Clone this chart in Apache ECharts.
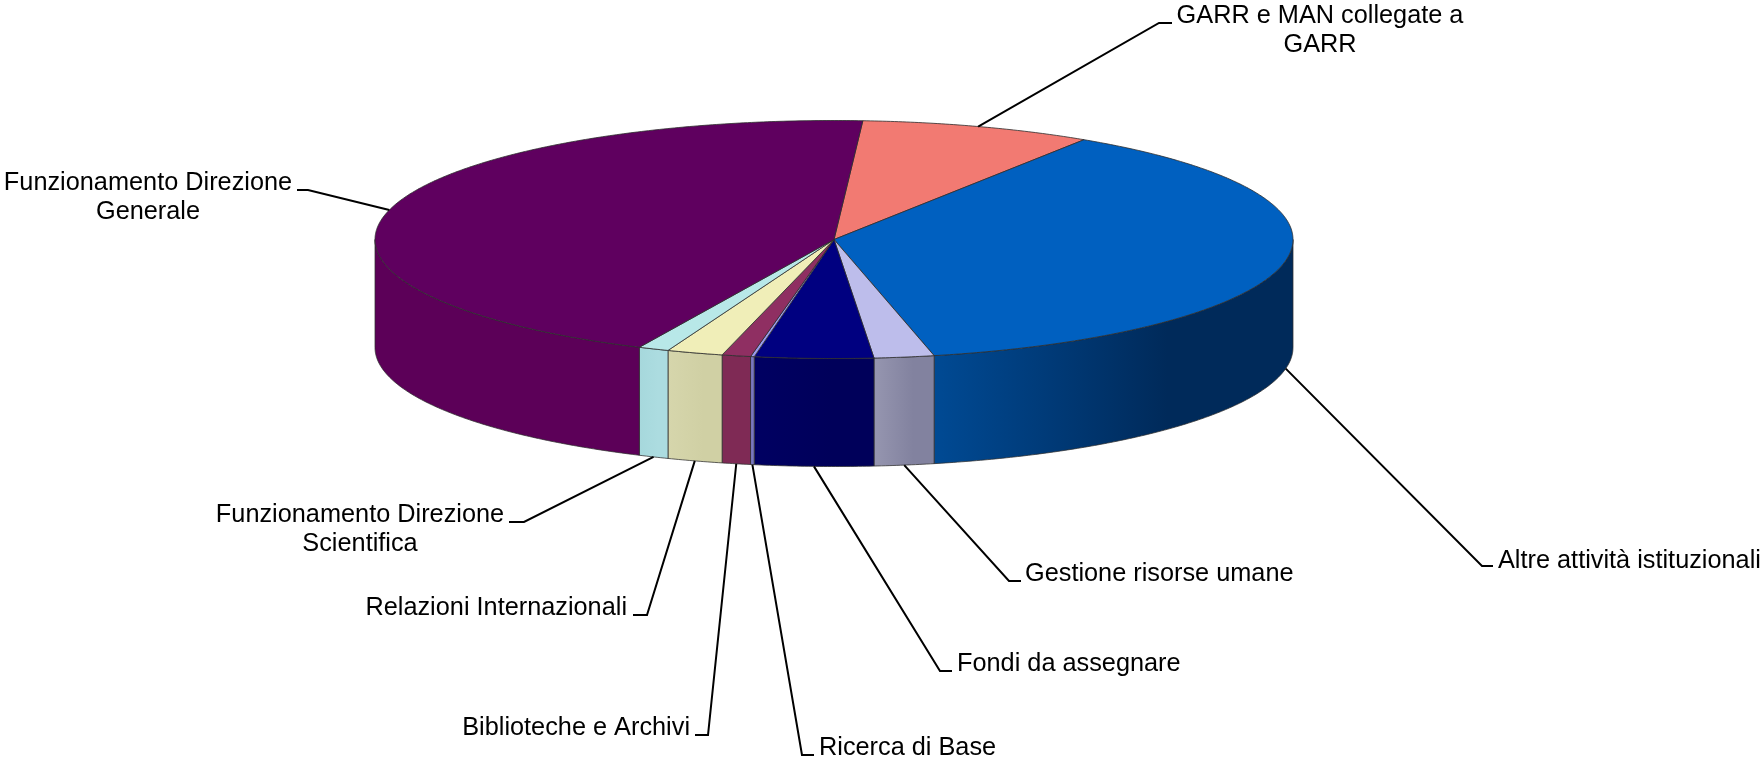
<!DOCTYPE html>
<html>
<head>
<meta charset="utf-8">
<title>Torta 3D</title>
<style>
html,body{margin:0;padding:0;background:#fff}
#main{width:1763px;height:760px}
</style>
<script src="https://cdn.jsdelivr.net/npm/echarts@6/dist/echarts.min.js"></script>
</head>
<body>
<div id="main"></div>
<script>
// categories, clockwise from the top of the pie
var categories = [
    'GARR e MAN collegate a\nGARR',
    'Altre attività istituzionali',
    'Gestione risorse umane',
    'Fondi da assegnare',
    'Ricerca di Base',
    'Biblioteche e Archivi',
    'Relazioni Internazionali',
    'Funzionamento Direzione\nScientifica',
    'Funzionamento Direzione\nGenerale'
];
// share of the total, in %
var shares = [8.17, 37.33, 2.11, 4.17, 0.13, 1.01, 1.97, 1.08, 44.03];

var topColors = ['#F27A72', '#0060C0', '#BDBDEB', '#000080', '#9A9AEE', '#8F2F62', '#F0EEB8', '#B8E8E8', '#5F005F'];
var wallColors = [
    ['#B86060', '#B86060'],
    ['#004A94', '#002A5A'],
    ['#9696B0', '#82829F'],
    ['#000062', '#00005A'],
    ['#7878C0', '#7878C0'],
    ['#7F2A55', '#7F2A55'],
    ['#D6D6AC', '#D0D0A4'],
    ['#A6D8DC', '#ACDCE0'],
    ['#5C0058', '#5C0058']
];

// elbow of each leader line, then where it stops next to the text
var elbows = [[1159, 23], [1482, 566], [1009, 581], [940, 671], [802, 755], [708, 735], [647, 615], [524, 522], [308, 190]];
var leaderEnds = [[1172, 23], [1493, 566], [1021, 581], [952, 671], [814, 755], [695, 735], [633, 615], [509, 522], [297, 190]];
var labelPos = [[1320, 31], [1498, 561], [1025, 574], [957, 664], [819, 748], [690, 728], [627, 608], [360, 530], [148, 198]];
var labelAlign = ['center', 'left', 'left', 'left', 'left', 'right', 'right', 'center', 'center'];

var cx = 834, cy = 239.5, rx = 459, ry = 119, depth = 108;
var startAngle = 3.6;

var total = 0;
shares.forEach(function (v) { total += v; });

function sliceRange(idx) {
    var sum = 0;
    for (var i = 0; i < idx; i++) sum += shares[i];
    return [startAngle + sum / total * 360, startAngle + (sum + shares[idx]) / total * 360];
}
// angle in degrees, clockwise from the top of the ellipse
function rim(deg, dz) {
    var t = deg * Math.PI / 180;
    return [cx + rx * Math.sin(t), cy - ry * Math.cos(t) + dz];
}
function arc(from, to, dz) {
    var pts = [];
    var n = Math.max(2, Math.ceil((to - from) * 2));
    for (var i = 0; i <= n; i++) pts.push(rim(from + (to - from) * i / n, dz));
    return pts;
}

function renderSlice(params, api) {
    var idx = params.dataIndex;
    var r = sliceRange(idx);
    var children = [];
    var lo = Math.max(r[0], 90), hi = Math.min(r[1], 270);
    if (hi > lo) {
        children.push({
            type: 'polygon',
            shape: { points: arc(lo, hi, 0).concat(arc(lo, hi, depth).reverse()) },
            style: {
                fill: new echarts.graphic.LinearGradient(0, 0, 1, 0, [
                    { offset: 0, color: wallColors[idx][0] },
                    { offset: 0.65, color: wallColors[idx][1] },
                    { offset: 1, color: wallColors[idx][1] }
                ]),
                stroke: 'rgba(45,45,45,0.75)',
                lineWidth: 1
            }
        });
    }
    children.push({
        type: 'polygon',
        shape: { points: [[cx, cy]].concat(arc(r[0], r[1], 0)) },
        style: { fill: topColors[idx], stroke: 'rgba(45,45,45,0.8)', lineWidth: 1 }
    });
    return { type: 'group', children: children };
}

function renderLabel(params, api) {
    var idx = params.dataIndex;
    var r = sliceRange(idx);
    var mid = (r[0] + r[1]) / 2;
    var front = mid > 90 && mid < 270;
    return {
        type: 'group',
        children: [{
            type: 'polyline',
            shape: { points: [rim(mid, front ? depth : 0), elbows[idx], leaderEnds[idx]] },
            style: { fill: null, stroke: '#000', lineWidth: 2 }
        }, {
            type: 'text',
            style: {
                text: categories[idx],
                x: labelPos[idx][0],
                y: labelPos[idx][1],
                align: labelAlign[idx],
                verticalAlign: 'middle',
                fontFamily: '"Liberation Sans", Arial, sans-serif',
                fontSize: 25.3,
                lineHeight: 29,
                fill: '#000'
            }
        }]
    };
}

var myChart = echarts.init(document.getElementById('main'));
var option = {
    backgroundColor: '#fff',
    animation: false,
    series: [
        { type: 'custom', coordinateSystem: 'none', renderItem: renderSlice, data: shares, silent: true },
        { type: 'custom', coordinateSystem: 'none', renderItem: renderLabel, data: shares, silent: true }
    ]
};
myChart.setOption(option);
</script>
</body>
</html>
